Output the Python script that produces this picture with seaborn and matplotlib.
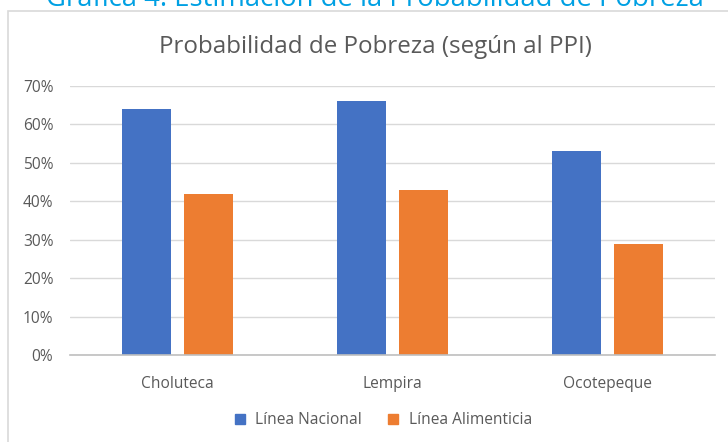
import matplotlib
matplotlib.use("Agg")
import matplotlib.pyplot as plt
import seaborn as sns
import pandas as pd
from matplotlib.patches import Rectangle
from matplotlib.ticker import PercentFormatter

# data
departamentos = ["Choluteca", "Lempira", "Ocotepeque"]
linea_nacional = [0.64, 0.66, 0.53]
linea_alimenticia = [0.42, 0.43, 0.29]
series = ["Línea Nacional", "Línea Alimenticia"]

df = pd.DataFrame({
    "departamento": departamentos * 2,
    "valor": linea_nacional + linea_alimenticia,
    "serie": [series[0]] * 3 + [series[1]] * 3,
})

sns.set_style("white")
plt.rcParams['font.family'] = ['Open Sans', 'DejaVu Sans']

fig = plt.figure(figsize=(7.28, 4.42), dpi=100)
ax = fig.add_axes([70 / 728, 1 - 355 / 442, 645 / 728, 269 / 442])

sns.barplot(data=df, x="departamento", y="valor", hue="serie",
            palette=["#4472C4", "#ED7D31"], saturation=1, width=0.577, gap=0.21,
            linewidth=0, ax=ax, legend=False)

ax.set_ylim(0, 0.7)
ax.set_xlim(-0.5, 2.5)
ax.set_yticks([i / 10 for i in range(8)])
ax.yaxis.set_major_formatter(PercentFormatter(1.0, decimals=0))
ax.grid(axis="y", color="#D9D9D9", linewidth=1)
ax.set_axisbelow(True)
for s in ["top", "right", "left"]:
    ax.spines[s].set_visible(False)
ax.spines["bottom"].set_color("#BFBFBF")
ax.spines["bottom"].set_linewidth(1.2)
ax.tick_params(axis="both", length=0, labelsize=11.2, labelcolor="#595959")
ax.tick_params(axis="x", pad=15)
ax.tick_params(axis="y", pad=12)
ax.set_xlabel("")
ax.set_ylabel("")

# chart frame
fig.patches.append(Rectangle((8 / 728, -0.05), 0.99, 1 - 11 / 442 + 0.05,
                             transform=fig.transFigure, fill=False,
                             edgecolor="#D9D9D9", linewidth=1.2))

fig.text(375 / 728, 1 - 6 / 442, "Gráfica 4. Estimación de la Probabilidad de Pobreza",
         ha="center", va="baseline", fontsize=19.8, color="#00A0E3")
fig.text(375 / 728, 1 - 47 / 442, "Probabilidad de Pobreza (según al PPI)",
         ha="center", va="center", fontsize=17.4, color="#595959")

# legend
handles = [plt.Line2D([], [], marker="s", linestyle="", markersize=7.5,
                      color=c) for c in ["#4472C4", "#ED7D31"]]
fig.legend(handles, series, loc="center", bbox_to_anchor=(378 / 728, 1 - 420 / 442),
           ncol=2, frameon=False, fontsize=11.2, labelcolor="#595959",
           handletextpad=0.0, columnspacing=1.0)

fig.savefig("out.png", dpi=100)
